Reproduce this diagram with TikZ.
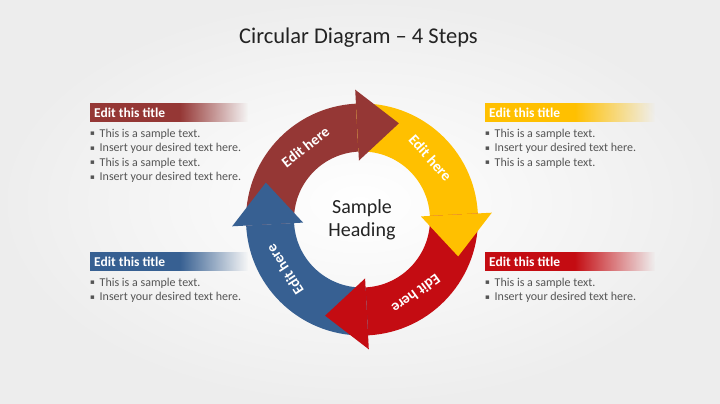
\documentclass[tikz,border=0pt]{standalone}
\usepackage{fontspec}
\setmainfont{Carlito}
\newfontfamily\symfont{DejaVu Sans}
\usetikzlibrary{calc,fadings}
\definecolor{cbrown}{RGB}{149,55,53}
\definecolor{cyellow}{RGB}{255,192,0}
\definecolor{cred}{RGB}{196,12,18}
\definecolor{cblue}{RGB}{55,96,146}
\definecolor{ctext}{RGB}{85,85,85}
\definecolor{ctitle}{RGB}{35,35,35}
\tikzset{
  arclabel/.style={text=white, font=\bfseries\fontsize{15}{17}\selectfont, inner sep=0pt},
  bartitle/.style={text=white, font=\bfseries\fontsize{13.5}{15}\selectfont, anchor=west, inner sep=0pt},
  bultxt/.style={text=ctext, font=\fontsize{12}{14}\selectfont, anchor=west, inner sep=0pt},
  bulmark/.style={text=ctext, font=\symfont\fontsize{7}{8}\selectfont, inner sep=0pt},
}
\newcommand{\ringbody}[3]{% color, start angle, end angle
  \fill[#1] ($(c)+(#2:116pt)$) arc[start angle=#2, end angle=#3, radius=116pt]
    -- ($(c)+(#3:68pt)$) arc[start angle=#3, end angle=#2, radius=68pt] -- cycle;}
\newcommand{\ringhead}[2]{% color, base angle
  \fill[#1] ($(c)+(#2:59pt)$) -- ($(c)+(#2:130pt)$) -- ($(c)+(#2-24:103pt)$) -- cycle;}
\begin{document}
\begin{tikzpicture}[x=1pt,y=1pt]
\useasboundingbox (0,0) rectangle (720,-404);
\shade[inner color=white, outer color=black!7] (0,0) rectangle (720,-404);

\node[text=ctitle, font=\fontsize{22.5}{25}\selectfont] (title) at (358.5,-38) {Circular Diagram – 4 Steps};

\coordinate (c) at (362,-219.5);
% bodies
\ringbody{cbrown}{183}{93}
\ringbody{cyellow}{93}{3}
\ringbody{cred}{3}{-87}
\ringbody{cblue}{-87}{-177}
% heads
\ringhead{cbrown}{93}
\ringhead{cyellow}{3}
\ringhead{cred}{-87}
\ringhead{cblue}{183}
% labels
\node[arclabel, rotate=38] (l1) at ($(c)+(128:92pt)$) {Edit here};
\node[arclabel, rotate=-48] (l2) at ($(c)+(42:92pt)$) {Edit here};
\node[arclabel, rotate=-144] (l3) at ($(c)+(-54:92pt)$) {Edit here};
\node[arclabel, rotate=123] (l4) at ($(c)+(213:92pt)$) {Edit here};

\node[text=ctitle, font=\fontsize{20}{23}\selectfont, align=center] (center) at (c) {Sample\\Heading};

% left top panel
\fill[cbrown] (90,-103) rectangle (180,-122);
\fill[cbrown, path fading=east] (179.5,-103) rectangle (248,-122);
\node[bartitle] (t1) at (94,-112.5) {Edit this title};
\foreach \i/\yy/\tt in {1/134/This is a sample text., 2/148.5/Insert your desired text here., 3/163/This is a sample text., 4/177.5/Insert your desired text here.}{
  \node[bulmark] (b1m\i) at (92.5,-\yy) {▪};
  \node[bultxt] (b1t\i) at (99.5,-\yy) {\tt};
}
% right top panel
\fill[cyellow] (485,-103) rectangle (575,-122);
\fill[cyellow, path fading=east] (574.5,-103) rectangle (655,-122);
\node[bartitle] (t2) at (489,-112.5) {Edit this title};
\foreach \i/\yy/\tt in {1/134/This is a sample text., 2/148.5/Insert your desired text here., 3/163/This is a sample text.}{
  \node[bulmark] (b2m\i) at (487.5,-\yy) {▪};
  \node[bultxt] (b2t\i) at (494.5,-\yy) {\tt};
}
% left bottom panel
\fill[cblue] (90,-252) rectangle (180,-271);
\fill[cblue, path fading=east] (179.5,-252) rectangle (248,-271);
\node[bartitle] (t3) at (94,-261.5) {Edit this title};
\foreach \i/\yy/\tt in {1/283/This is a sample text., 2/297.5/Insert your desired text here.}{
  \node[bulmark] (b3m\i) at (92.5,-\yy) {▪};
  \node[bultxt] (b3t\i) at (99.5,-\yy) {\tt};
}
% right bottom panel
\fill[cred] (485,-252) rectangle (575,-271);
\fill[cred, path fading=east] (574.5,-252) rectangle (655,-271);
\node[bartitle] (t4) at (489,-261.5) {Edit this title};
\foreach \i/\yy/\tt in {1/283/This is a sample text., 2/297.5/Insert your desired text here.}{
  \node[bulmark] (b4m\i) at (487.5,-\yy) {▪};
  \node[bultxt] (b4t\i) at (494.5,-\yy) {\tt};
}
\end{tikzpicture}
\end{document}
